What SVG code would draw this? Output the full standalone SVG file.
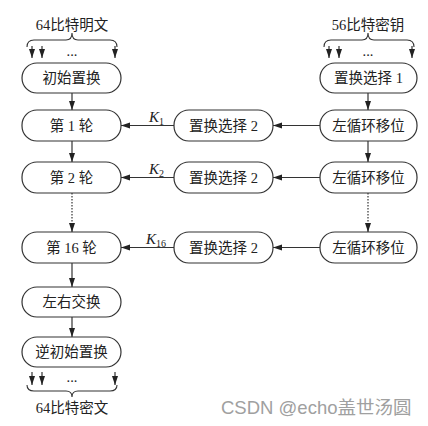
<svg xmlns="http://www.w3.org/2000/svg" width="428" height="426" viewBox="0 0 428 426">
<defs>
<marker id="ah" markerUnits="userSpaceOnUse" markerWidth="9" markerHeight="7" refX="9" refY="3" orient="auto">
<path d="M0,0 L9,3 L0,6 Z" fill="#222"/>
</marker>
<style>
.box{fill:#fff;stroke:#333;stroke-width:1.2}
.t{font-family:"Liberation Serif","Noto Sans CJK SC",serif;font-size:14.5px;fill:#222;text-anchor:middle}
.k{font-family:"Liberation Serif",serif;font-size:15px;fill:#222}
.ln{stroke:#333;stroke-width:1.2;fill:none}
.dot{stroke:#333;stroke-width:1.2;fill:none;stroke-dasharray:1.5 1.5}
.br{stroke:#333;stroke-width:1.1;fill:none}
.wm{font-family:"Liberation Sans","Noto Sans CJK SC",sans-serif;font-size:18.5px;fill:#a0a0a0}
</style>
</defs>
<rect width="428" height="426" fill="#fff"/>

<!-- top labels and braces -->
<g id="in-label">
<text class="t" x="72" y="30">64比特明文</text>
<path class="br" d="M27,47 Q27,40 34,40 L66,40 Q72,40 72,33 Q72,40 78,40 L110,40 Q117,40 117,47"/>
<text class="t" x="72" y="56">...</text>
</g>
<g id="key-label">
<text class="t" x="368" y="30">56比特密钥</text>
<path class="br" d="M324,47 Q324,40 331,40 L362,40 Q368,40 368,33 Q368,40 374,40 L407,40 Q414,40 414,47"/>
<text class="t" x="368" y="56">...</text>
</g>
<g id="out-label">
<path class="br" d="M27,385 Q27,391 34,391 L66,391 Q72,391 72,397 Q72,391 78,391 L110,391 Q117,391 117,385"/>
<text class="t" x="72" y="382">...</text>
<text class="t" x="72" y="413">64比特密文</text>
</g>

<!-- nodes -->
<g id="ip"><rect class="box" x="22" y="63" width="99" height="30" rx="15"/><text class="t" x="71.5" y="83">初始置换</text></g>
<g id="r1"><rect class="box" x="22" y="110" width="99" height="31" rx="15"/><text class="t" x="71.5" y="130.5">第 1 轮</text></g>
<g id="r2"><rect class="box" x="22" y="162" width="99" height="31" rx="15"/><text class="t" x="71.5" y="182.5">第 2 轮</text></g>
<g id="r16"><rect class="box" x="22" y="232" width="99" height="31" rx="15"/><text class="t" x="71.5" y="252.5">第 16 轮</text></g>
<g id="swap"><rect class="box" x="22" y="287" width="99" height="30" rx="15"/><text class="t" x="71.5" y="307">左右交换</text></g>
<g id="ipinv"><rect class="box" x="22" y="337" width="99" height="30" rx="15"/><text class="t" x="71.5" y="357">逆初始置换</text></g>

<g id="pc1"><rect class="box" x="320" y="63" width="97" height="30" rx="15"/><text class="t" x="368.5" y="83">置换选择 1</text></g>
<g id="ls1"><rect class="box" x="320" y="110" width="97" height="31" rx="15"/><text class="t" x="368.5" y="130.5">左循环移位</text></g>
<g id="ls2"><rect class="box" x="320" y="162" width="97" height="31" rx="15"/><text class="t" x="368.5" y="182.5">左循环移位</text></g>
<g id="ls16"><rect class="box" x="320" y="232" width="97" height="31" rx="15"/><text class="t" x="368.5" y="252.5">左循环移位</text></g>

<g id="pc2a"><rect class="box" x="174" y="110" width="99" height="31" rx="15"/><text class="t" x="223.5" y="130.5">置换选择 2</text></g>
<g id="pc2b"><rect class="box" x="174" y="162" width="99" height="31" rx="15"/><text class="t" x="223.5" y="182.5">置换选择 2</text></g>
<g id="pc2c"><rect class="box" x="174" y="232" width="99" height="31" rx="15"/><text class="t" x="223.5" y="252.5">置换选择 2</text></g>

<!-- connectors -->
<g id="connectors">
<line class="ln" x1="32" y1="46" x2="32" y2="58" marker-end="url(#ah)"/>
<line class="ln" x1="42" y1="46" x2="42" y2="58" marker-end="url(#ah)"/>
<line class="ln" x1="115" y1="46" x2="115" y2="58" marker-end="url(#ah)"/>
<line class="ln" x1="329" y1="46" x2="329" y2="58" marker-end="url(#ah)"/>
<line class="ln" x1="339" y1="46" x2="339" y2="58" marker-end="url(#ah)"/>
<line class="ln" x1="412" y1="46" x2="412" y2="58" marker-end="url(#ah)"/>

<line class="ln" x1="72" y1="93" x2="72" y2="110" marker-end="url(#ah)"/>
<line class="ln" x1="72" y1="141" x2="72" y2="162" marker-end="url(#ah)"/>
<line class="dot" x1="72" y1="193" x2="72" y2="224"/>
<line class="ln" x1="72" y1="223" x2="72" y2="232" marker-end="url(#ah)"/>
<line class="ln" x1="72" y1="263" x2="72" y2="287" marker-end="url(#ah)"/>
<line class="ln" x1="72" y1="317" x2="72" y2="337" marker-end="url(#ah)"/>

<line class="ln" x1="368" y1="93" x2="368" y2="110" marker-end="url(#ah)"/>
<line class="ln" x1="368" y1="141" x2="368" y2="162" marker-end="url(#ah)"/>
<line class="dot" x1="368" y1="193" x2="368" y2="224"/>
<line class="ln" x1="368" y1="223" x2="368" y2="232" marker-end="url(#ah)"/>

<line class="ln" x1="320" y1="125.5" x2="273" y2="125.5" marker-end="url(#ah)"/>
<line class="ln" x1="320" y1="177.5" x2="273" y2="177.5" marker-end="url(#ah)"/>
<line class="ln" x1="320" y1="247.5" x2="273" y2="247.5" marker-end="url(#ah)"/>
<line class="ln" x1="174" y1="125.5" x2="121" y2="125.5" marker-end="url(#ah)"/>
<line class="ln" x1="174" y1="177.5" x2="121" y2="177.5" marker-end="url(#ah)"/>
<line class="ln" x1="174" y1="247.5" x2="121" y2="247.5" marker-end="url(#ah)"/>

<line class="ln" x1="32" y1="372" x2="32" y2="385" marker-end="url(#ah)"/>
<line class="ln" x1="42" y1="372" x2="42" y2="385" marker-end="url(#ah)"/>
<line class="ln" x1="115" y1="372" x2="115" y2="385" marker-end="url(#ah)"/>

<text class="k" x="149" y="122"><tspan font-style="italic">K</tspan><tspan font-size="10" dy="3">1</tspan></text>
<text class="k" x="149" y="174"><tspan font-style="italic">K</tspan><tspan font-size="10" dy="3">2</tspan></text>
<text class="k" x="146" y="244"><tspan font-style="italic">K</tspan><tspan font-size="10" dy="3">16</tspan></text>
</g>

<text class="wm" x="221" y="414">CSDN @echo盖世汤圆</text>
</svg>
